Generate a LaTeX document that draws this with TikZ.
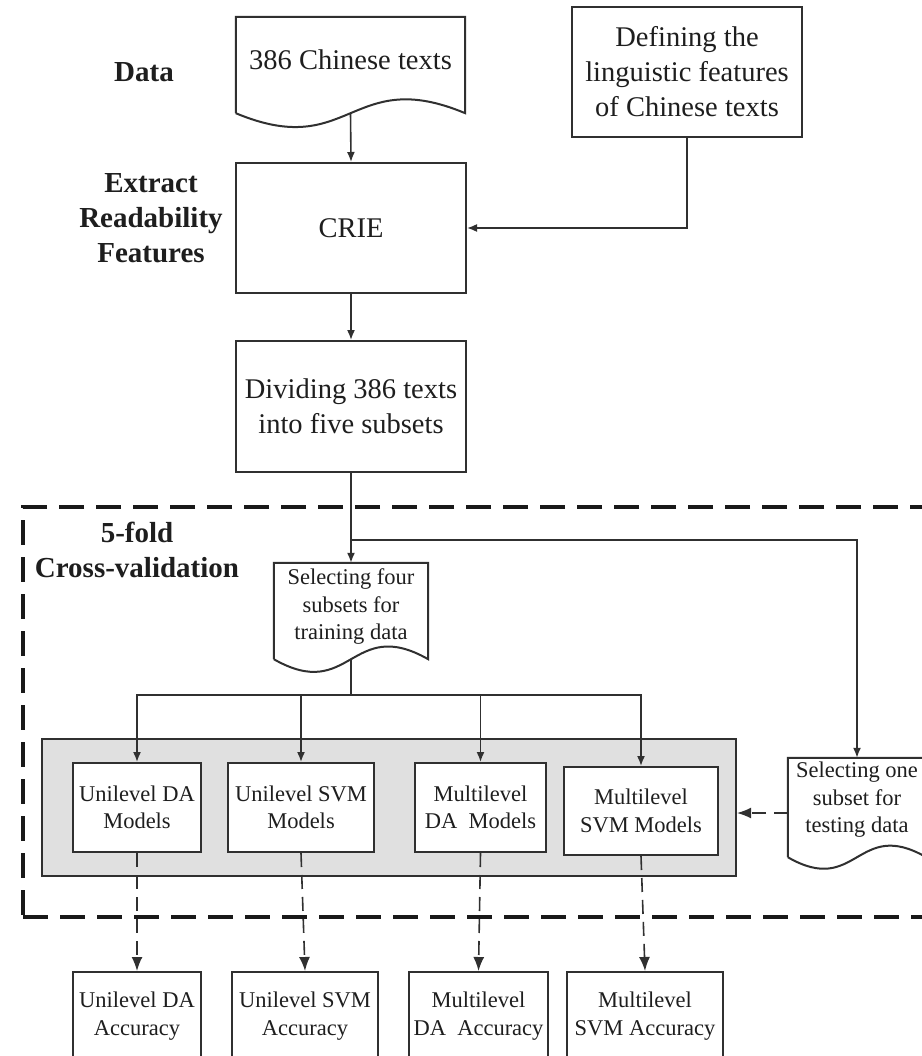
\documentclass[tikz,border=0pt]{standalone}
\usepackage{fontspec}
\setmainfont{Liberation Serif}
\usetikzlibrary{arrows.meta,calc}
\definecolor{ink}{HTML}{1E1E1E}
\definecolor{edge}{HTML}{303030}
\definecolor{panelgray}{HTML}{E0E0E0}

% document symbol: straight sides, wavy bottom below the node's south edge
\newcommand\drawdoc[3]{%
  \draw[docline] ($(#1.south west)+(0,#2)$) -- (#1.north west) -- (#1.north east)
    -- ($(#1.south east)+(0,#2)$)
    .. controls ($(#1.south)+(0,#2-#3)$) and ($(#1.south)+(0,#2+#3)$)
    .. ($(#1.south west)+(0,#2)$);}

\begin{document}
\begin{tikzpicture}[x=1pt,y=-1pt,
  bigtxt/.style={font=\fontsize{28.5}{35}\selectfont, text=ink, align=center},
  smalltxt/.style={font=\fontsize{22.5}{27.5}\selectfont, text=ink, align=center},
  lbl/.style={font=\fontsize{29}{35}\selectfont\bfseries, text=ink, align=center},
  boxnode/.style={draw=edge, line width=2pt, fill=white, inner sep=0pt},
  docnode/.style={inner sep=0pt},
  docline/.style={draw=edge, line width=2pt},
  conn/.style={draw=edge, line width=1.6pt},
  arr/.style={conn, -{Latex[length=10pt,width=8pt]}},
  darr/.style={conn, dash pattern=on 14pt off 8pt, -{Latex[length=14pt,width=11pt]}},
  cvframe/.style={draw=black!90, line width=3.2pt, dash pattern=on 25pt off 12pt, inner sep=0pt},
  panel/.style={draw=edge, line width=2pt, fill=panelgray, inner sep=0pt}
]
\fill[white] (0,0) rectangle (921,1056);
\useasboundingbox (0,0) rectangle (921,1056);

% side labels
\node[lbl] (lbldata) at (144,72) {Data};
\node[lbl] (lblextract) at (151,218) {Extract\\Readability\\Features};

% top part of the pipeline
\node[docnode, bigtxt, minimum width=229, minimum height=86] (src) at (350.5,60) {386 Chinese texts};
\drawdoc{src}{10}{48}
\coordinate (srcb) at ($(src.south)+(0,10)$);

\node[boxnode, bigtxt, minimum width=230, minimum height=130] (def) at (687,72)
  {Defining the\\linguistic features\\of Chinese texts};
\node[boxnode, bigtxt, minimum width=230, minimum height=130] (crie) at (351,228) {CRIE};
\node[boxnode, bigtxt, minimum width=230, minimum height=131] (div) at (351,406.5)
  {Dividing 386 texts\\into five subsets};

\draw[arr] (srcb) -- (crie.north);
\draw[arr] (def.south) |- (crie.east);
\draw[arr] (crie.south) -- (div.north);

% cross-validation frame
\node[cvframe, minimum width=917, minimum height=410] (cv) at (481.5,712) {};
\node[lbl] (lblcv) at (137,550) {5-fold\\Cross-validation};

% training / testing subsets
\node[docnode, smalltxt, minimum width=154, minimum height=88] (train) at (351,607)
  {Selecting four\\subsets for\\training data};
\drawdoc{train}{8}{44}
\coordinate (trainb) at ($(train.south)+(0,8)$);

\node[docnode, smalltxt, minimum width=138, minimum height=84] (test) at (857,800)
  {Selecting one\\subset for\\testing data};
\drawdoc{test}{15}{40}

\coordinate (split) at (351,540);
\draw[conn] (div.south) -- (split);
\draw[arr] (split) -- (train.north);
\draw[arr] (split) -| (test.north);

% model panel
\node[panel, minimum width=694, minimum height=137] (models) at (389,807.5) {};
\node[boxnode, smalltxt, minimum width=128, minimum height=89] (m1) at (137,807.5) {Unilevel DA\\Models};
\node[boxnode, smalltxt, minimum width=146, minimum height=89] (m2) at (301,807.5) {Unilevel SVM\\Models};
\node[boxnode, smalltxt, minimum width=131, minimum height=89] (m3) at (480.5,807.5) {Multilevel\\DA~~Models};
\node[boxnode, smalltxt, minimum width=154, minimum height=88] (m4) at (641,811) {Multilevel\\SVM Models};

\coordinate (fan) at (351,695);
\draw[conn, line width=2.8pt] (trainb) -- (fan);
\draw[arr] (fan) -| (m1.north);
\draw[arr] (fan) -| (m2.north);
\draw[arr] (fan) -| (m3.north);
\draw[arr] (fan) -| (m4.north);

\coordinate (testin) at (788,813);
\draw[darr] (testin) -- (testin -| models.east);

% accuracy results
\node[boxnode, smalltxt, minimum width=128, minimum height=88] (a1) at (137,1016) {Unilevel DA\\Accuracy};
\node[boxnode, smalltxt, minimum width=146, minimum height=88] (a2) at (305,1016) {Unilevel SVM\\Accuracy};
\node[boxnode, smalltxt, minimum width=139, minimum height=88] (a3) at (478.5,1016) {Multilevel\\DA~~Accuracy};
\node[boxnode, smalltxt, minimum width=156, minimum height=88] (a4) at (645,1016) {Multilevel\\SVM Accuracy};

\draw[darr] (m1.south) -- (a1.north);
\draw[darr] (m2.south) -- (a2.north);
\draw[darr] (m3.south) -- (a3.north);
\draw[darr] (m4.south) -- (a4.north);
\end{tikzpicture}
\end{document}
